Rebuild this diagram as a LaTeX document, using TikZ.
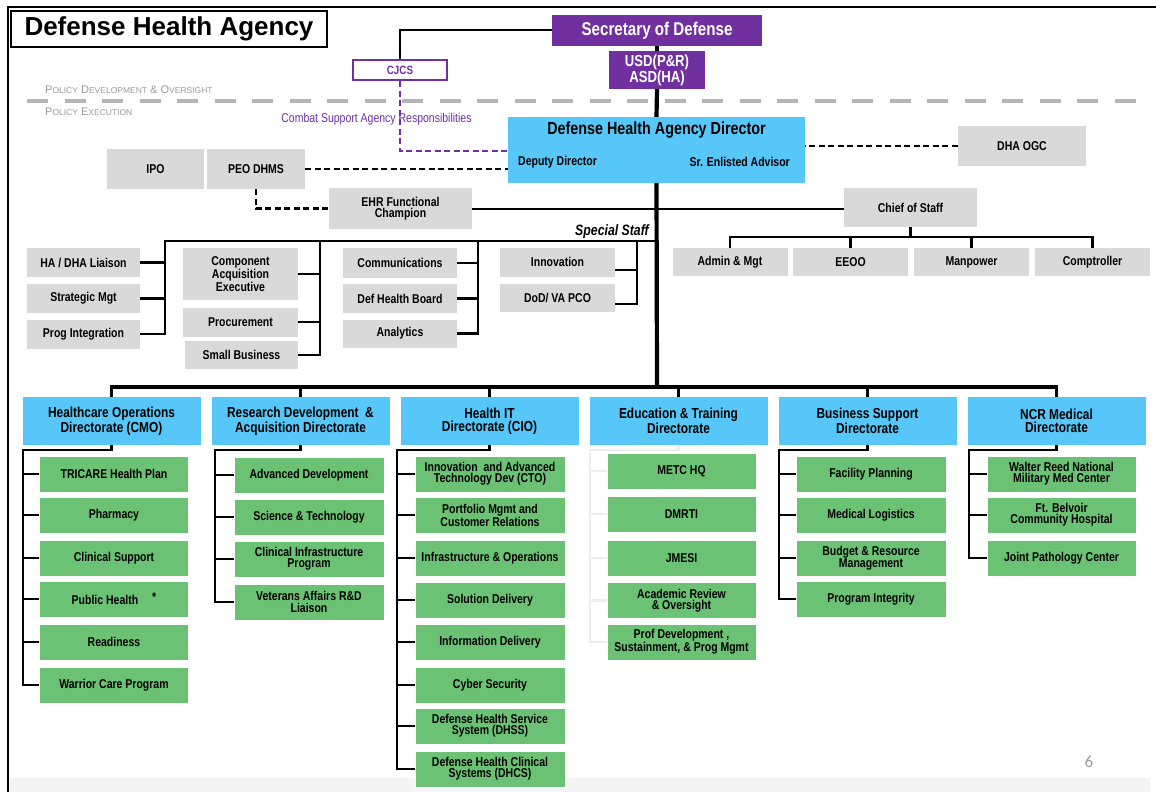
\documentclass[tikz,border=0pt]{standalone}
\usepackage{fontspec}
\setmainfont{Liberation Sans}
\newfontfamily\narrowfont[FakeStretch=0.82]{Liberation Sans}
\newfontfamily\pagefont{Carlito}
\usetikzlibrary{positioning}

\definecolor{dhapurple}{HTML}{7030A0}
\definecolor{dhablue}{HTML}{56C7F8}
\definecolor{dhagreen}{HTML}{6BC274}
\definecolor{dhagray}{HTML}{D9D9D9}
\definecolor{policygray}{HTML}{B4B4B4}
\definecolor{labelgray}{HTML}{9A9A9A}
\definecolor{faintline}{HTML}{EDEDED}
\definecolor{bandgray}{HTML}{F4F4F4}

\newcommand{\smc}[1]{{\fontsize{8.5}{9}\selectfont #1}}

\tikzset{
  titlebox/.style={draw, line width=2.5pt, fill=white, minimum width=316pt, minimum height=36pt, inner sep=1pt, font=\bfseries\fontsize{26}{28}\selectfont},
  purplebox/.style={fill=dhapurple, text=white, inner sep=1pt, align=center, font=\narrowfont\bfseries\fontsize{16}{14}\selectfont},
  cjcsbox/.style={draw=dhapurple, line width=2pt, fill=white, text=dhapurple, minimum width=94pt, minimum height=20pt, inner sep=1pt, font=\narrowfont\bfseries\fontsize{12}{12}\selectfont},
  graybox/.style={fill=dhagray, inner sep=1pt, align=center, minimum width=115pt, minimum height=29pt, font=\narrowfont\bfseries\fontsize{12.8}{11}\selectfont},
  bluebox/.style={fill=dhablue, inner sep=1pt, align=center, minimum width=178pt, minimum height=48pt, font=\narrowfont\bfseries\fontsize{14.5}{12.5}\selectfont},
  greenbox/.style={fill=dhagreen, draw=white, line width=0.8pt, inner sep=1pt, align=center, minimum width=150pt, minimum height=36pt, font=\narrowfont\bfseries\fontsize{12.8}{11.2}\selectfont},
  policy/.style={text=labelgray, inner sep=0pt, font=\fontsize{11}{12}\selectfont},
  link/.style={line width=2.8pt},
  trunk/.style={line width=4.2pt},
  bar/.style={line width=3.2pt},
  faint/.style={line width=2.8pt, draw=faintline},
  blackdash/.style={line width=2.2pt, dash pattern=on 6pt off 3.5pt},
  purpledash/.style={line width=2pt, draw=dhapurple, dash pattern=on 6pt off 3.5pt},
  policyline/.style={line width=4pt, draw=policygray, dash pattern=on 21pt off 16.5pt}
}

\begin{document}
\begin{tikzpicture}[x=1pt,y=-1pt]
\useasboundingbox (0,0) rectangle (1156,792);

% Frame
\fill[bandgray] (10,778) rectangle (1150,792);
\draw[line width=2pt] (8,792) -- (8,7) -- (1156,7);
\node[titlebox] (title) at (169,29) {Defense Health Agency};

% Policy split
\draw[policyline] (27,101) -- (1140,101);
\node[policy, anchor=west] (develop) at (45,90) {P\smc{OLICY} D\smc{EVELOPMENT} \& O\smc{VERSIGHT}};
\node[policy, anchor=west] (execute) at (45,112) {P\smc{OLICY} E\smc{XECUTION}};

% Top nodes
\node[purplebox, minimum width=210pt, minimum height=31pt, font=\narrowfont\bfseries\fontsize{18.5}{18}\selectfont] (secdef) at (657,30.5) {Secretary of Defense};
\node[purplebox, minimum width=96pt, minimum height=38pt] (usd) at (657,70) {USD(P\&R)\\ASD(HA)};
\node[cjcsbox] (cjcs) at (400,70) {CJCS};
\node[text=dhapurple, inner sep=1pt, font=\narrowfont\fontsize{12.8}{12}\selectfont] (csa) at (376.5,119) {Combat Support Agency Responsibilities};

% Director
\node[bluebox, minimum width=297pt, minimum height=66pt] (dir) at (656.5,150) {};
\node[below=4pt of dir.north, inner sep=1pt, font=\narrowfont\bfseries\fontsize{17.5}{18}\selectfont] (dirtitle) {Defense Health Agency Director};
\node[anchor=west, inner sep=1pt, font=\narrowfont\bfseries\fontsize{12.8}{12}\selectfont] (deputy) at (517,162) {Deputy Director};
\node[anchor=east, inner sep=1pt, font=\narrowfont\bfseries\fontsize{12.8}{12}\selectfont] (enlisted) at (791,162) {Sr. Enlisted Advisor};

\node[graybox, minimum width=128pt, minimum height=40pt] (ogc) at (1022,146) {DHA OGC};
\node[graybox, minimum width=97pt, minimum height=40pt] (ipo) at (155.5,169) {IPO};
\node[graybox, minimum width=98pt, minimum height=40pt] (peo) at (256,169) {PEO DHMS};
\node[graybox, minimum width=143pt, minimum height=41pt] (ehr) at (400.5,208.5) {EHR Functional\\Champion};
\node[graybox, minimum width=133pt, minimum height=39pt] (cos) at (910.5,207.5) {Chief of Staff};

% Chief of Staff offices
\node[graybox, minimum height=28pt] (admin) at (730,262) {Admin \& Mgt};
\node[graybox, minimum height=28pt] (eeoo) at (850.5,262) {EEOO};
\node[graybox, minimum height=28pt] (manpower) at (971.5,262) {Manpower};
\node[graybox, minimum height=28pt] (comptroller) at (1092.5,262) {Comptroller};

% Special staff
\node[graybox, minimum width=113pt] (liaison) at (83.5,262.5) {HA / DHA Liaison};
\node[graybox, minimum width=113pt] (stratmgt) at (83.5,298.5) {Strategic Mgt};
\node[graybox, minimum width=113pt] (proginteg) at (83.5,334) {Prog Integration};
\node[graybox, minimum height=52pt] (cae) at (240.5,274) {Component\\Acquisition\\Executive};
\node[graybox] (procure) at (240.5,322) {Procurement};
\node[graybox, minimum width=113pt, minimum height=28pt] (smallbiz) at (241.5,355) {Small Business};
\node[graybox, minimum width=114pt, minimum height=30pt] (comms) at (400,263) {Communications};
\node[graybox, minimum width=114pt] (dhb) at (400,298.5) {Def Health Board};
\node[graybox, minimum width=114pt, minimum height=28pt] (analytics) at (400,333.5) {Analytics};
\node[graybox] (innovation) at (557.5,262) {Innovation};
\node[graybox, minimum height=28pt] (pco) at (557.5,298) {DoD/ VA PCO};
\node[anchor=south east, inner sep=1pt, font=\narrowfont\bfseries\itshape\fontsize{15}{15}\selectfont] (special) at (650,240) {Special Staff};

% Directorates
\node[bluebox] (cmo) at (111.5,421) {Healthcare Operations\\Directorate (CMO)};
\node[bluebox] (rda) at (300.5,421) {Research Development \ \&\\Acquisition Directorate};
\node[bluebox] (hit) at (489.5,421) {Health IT\\Directorate (CIO)};
\node[bluebox] (edu) at (678.5,421) {Education \& Training\\Directorate};
\node[bluebox] (bus) at (867.5,421) {Business Support\\Directorate};
\node[bluebox] (ncr) at (1056.5,421) {NCR Medical\\Directorate};

% Healthcare Operations
\node[greenbox, minimum width=149pt] (tricare) at (114,474) {TRICARE Health Plan};
\node[greenbox, minimum width=149pt] (pharmacy) at (114,515) {Pharmacy};
\node[greenbox, minimum width=149pt] (clinsupport) at (114,558) {Clinical Support};
\node[greenbox, minimum width=149pt] (pubhealth) at (114,599) {Public Health\hspace{14pt}\raisebox{3pt}{*}};
\node[greenbox, minimum width=149pt] (readiness) at (114,642) {Readiness};
\node[greenbox, minimum width=149pt] (warrior) at (114,685) {Warrior Care Program};

% Research Development & Acquisition
\node[greenbox] (advdev) at (309,475) {Advanced Development};
\node[greenbox] (scitech) at (309,517) {Science \& Technology};
\node[greenbox] (clininfra) at (309,559) {Clinical Infrastructure\\Program};
\node[greenbox] (valiaison) at (309,602) {Veterans Affairs R\&D\\Liaison};

% Health IT
\node[greenbox] (cto) at (490,474) {Innovation \ and Advanced\\Technology Dev (CTO)};
\node[greenbox] (portfolio) at (490,515) {Portfolio Mgmt and\\Customer Relations};
\node[greenbox] (infraops) at (490,558) {Infrastructure \& Operations};
\node[greenbox] (soldel) at (490,600) {Solution Delivery};
\node[greenbox] (infodel) at (490,642) {Information Delivery};
\node[greenbox] (cyber) at (490,685) {Cyber Security};
\node[greenbox] (dhss) at (490,726) {Defense Health Service\\System (DHSS)};
\node[greenbox] (dhcs) at (490,769) {Defense Health Clinical\\Systems (DHCS)};

% Education & Training
\node[greenbox, minimum width=149pt] (metc) at (681.5,471) {METC HQ};
\node[greenbox, minimum width=149pt] (dmrti) at (681.5,514) {DMRTI};
\node[greenbox, minimum width=149pt] (jmesi) at (681.5,558) {JMESI};
\node[greenbox, minimum width=149pt] (acadrev) at (681.5,600.5) {Academic Review\\\& Oversight};
\node[greenbox, minimum width=149pt] (profdev) at (681.5,642) {Prof Development ,\\Sustainment, \& Prog Mgmt};

% Business Support
\node[greenbox] (facility) at (871,474) {Facility Planning};
\node[greenbox] (medlog) at (871,515) {Medical Logistics};
\node[greenbox] (budget) at (871,558) {Budget \& Resource\\Management};
\node[greenbox] (progintegrity) at (871,599) {Program Integrity};

% NCR Medical
\node[greenbox, minimum width=149pt] (walter) at (1061.5,474) {Walter Reed National\\Military Med Center};
\node[greenbox, minimum width=149pt] (belvoir) at (1061.5,515) {Ft. Belvoir\\Community Hospital};
\node[greenbox, minimum width=149pt] (jpc) at (1061.5,558) {Joint Pathology Center};

\node[text=labelgray, inner sep=0pt, font=\pagefont\fontsize{17}{17}\selectfont] (pagenum) at (1089,762) {6};

% Command line
\draw[line width=2pt] (secdef.west) -| (cjcs.north);
\draw[trunk] (secdef.south) -- (usd.north);
\draw[trunk] (usd.south) -- (dir.north);
\coordinate (hub) at (657,387);
\draw[trunk] (dir.south) -- (hub);

% Dashed relations
\draw[purpledash] (cjcs.south) |- ([yshift=-1pt]dir.west);
\draw[blackdash] (peo.east) -- (peo.east -| dir.west);
\draw[blackdash] (ogc.west) -- (ogc.west -| dir.east);
\draw[blackdash] (peo.south) |- (ehr.west);
\draw[line width=2pt] (ehr.east) -- (ehr.east -| cos.west);

% Chief of Staff branch
\coordinate (cosbar) at (910.5,237);
\draw[line width=2.4pt] (cos.south) -- (cosbar);
\draw[line width=2.4pt] (admin.north) |- (cosbar) -| (comptroller.north);
\draw[line width=2.4pt] (eeoo.north) -- (eeoo.north |- cosbar);
\draw[line width=2.4pt] (manpower.north) -- (manpower.north |- cosbar);

% Special staff branch
\coordinate (sshub) at (657,241);
\coordinate (ss1) at (165,241);
\coordinate (ss2) at (320,241);
\coordinate (ss3) at (478,241);
\coordinate (ss4) at (637,241);
\draw[link] (sshub) -- (ss1) |- (proginteg.east);
\draw[link] (liaison.east) -- (liaison.east -| ss1);
\draw[link] (stratmgt.east) -- (stratmgt.east -| ss1);
\draw[link] (ss2) |- (smallbiz.east);
\draw[link] (cae.east) -- (cae.east -| ss2);
\draw[link] (procure.east) -- (procure.east -| ss2);
\draw[link] (ss3) |- (analytics.east);
\draw[link] (comms.east) -- (comms.east -| ss3);
\draw[link] (dhb.east) -- (dhb.east -| ss3);
\draw[link] (ss4) |- ([yshift=-6pt]pco.east);
\draw[link] ([yshift=-8pt]innovation.east) -- ([yshift=-8pt]innovation.east -| ss4);

% Directorate bar
\draw[bar] (cmo.north) |- (hub) -| (ncr.north);
\draw[bar] (rda.north) -- (rda.north |- hub);
\draw[bar] (hit.north) -- (hit.north |- hub);
\draw[bar] (edu.north) -- (edu.north |- hub);
\draw[bar] (bus.north) -- (bus.north |- hub);

% Directorate offices
\coordinate (cmocol) at (23,450);
\draw[link] (cmo.south) |- (cmocol) |- (warrior.west);
\draw[link] (tricare.west) -- (tricare.west -| cmocol);
\draw[link] (pharmacy.west) -- (pharmacy.west -| cmocol);
\draw[link] (clinsupport.west) -- (clinsupport.west -| cmocol);
\draw[link] (pubhealth.west) -- (pubhealth.west -| cmocol);
\draw[link] (readiness.west) -- (readiness.west -| cmocol);

\coordinate (rdacol) at (215,450);
\draw[link] (rda.south) |- (rdacol) |- (valiaison.west);
\draw[link] (advdev.west) -- (advdev.west -| rdacol);
\draw[link] (scitech.west) -- (scitech.west -| rdacol);
\draw[link] (clininfra.west) -- (clininfra.west -| rdacol);

\coordinate (hitcol) at (397,450);
\draw[link] (hit.south) |- (hitcol) |- (dhcs.west);
\draw[link] (cto.west) -- (cto.west -| hitcol);
\draw[link] (portfolio.west) -- (portfolio.west -| hitcol);
\draw[link] (infraops.west) -- (infraops.west -| hitcol);
\draw[link] (soldel.west) -- (soldel.west -| hitcol);
\draw[link] (infodel.west) -- (infodel.west -| hitcol);
\draw[link] (cyber.west) -- (cyber.west -| hitcol);
\draw[link] (dhss.west) -- (dhss.west -| hitcol);

\coordinate (educol) at (590,450);
\draw[faint] (edu.south) |- (educol) |- (profdev.west);
\draw[faint] (metc.west) -- (metc.west -| educol);
\draw[faint] (dmrti.west) -- (dmrti.west -| educol);
\draw[faint] (jmesi.west) -- (jmesi.west -| educol);
\draw[faint] (acadrev.west) -- (acadrev.west -| educol);

\coordinate (buscol) at (779,450);
\draw[link] (bus.south) |- (buscol) |- (progintegrity.west);
\draw[link] (facility.west) -- (facility.west -| buscol);
\draw[link] (medlog.west) -- (medlog.west -| buscol);
\draw[link] (budget.west) -- (budget.west -| buscol);

\coordinate (ncrcol) at (969,450);
\draw[link] (ncr.south) |- (ncrcol) |- (jpc.west);
\draw[link] (walter.west) -- (walter.west -| ncrcol);
\draw[link] (belvoir.west) -- (belvoir.west -| ncrcol);

\end{tikzpicture}
\end{document}
